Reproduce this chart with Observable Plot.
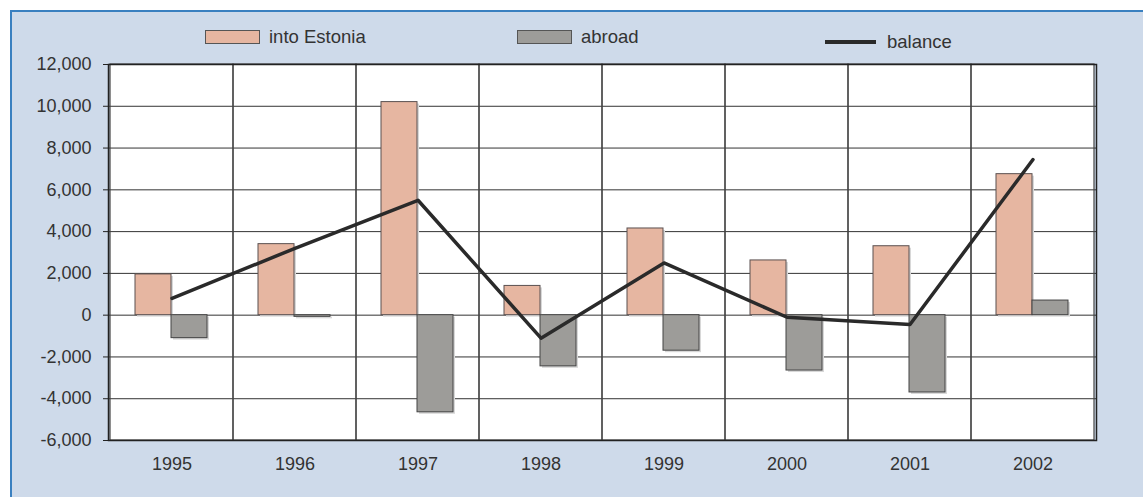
<!DOCTYPE html>
<html>
<head>
<meta charset="utf-8">
<script src="https://cdn.jsdelivr.net/npm/d3@7"></script>
<script src="https://cdn.jsdelivr.net/npm/@observablehq/plot@0.6"></script>
<style>
  body { margin: 0; background: #fff; font-family: "Liberation Sans", Arial, sans-serif; }
  #panel { position: absolute; left: 10px; top: 10px; width: 1133px; height: 487px;
           background: #cedaea; border-top: 2px solid #3a80c0; border-left: 2px solid #3a80c0; box-sizing: border-box; }
  #legend { position: absolute; left: 0; top: 0; width: 1143px; height: 54px; font-size: 18.5px; color: #333; }
  .item { position: absolute; top: 26px; display: flex; align-items: center; }
  .sw { width: 53px; height: 12px; border: 1px solid #555; margin-right: 9px; }
  .ln { width: 51px; height: 4px; background: #2a2a2a; margin-right: 11px; }
  #chart { position: absolute; left: 0; top: 54px; }
</style>
</head>
<body>
<div id="panel"></div>
<div id="legend"></div>
<div id="chart"></div>
<script>
const years = ["1995","1996","1997","1998","1999","2000","2001","2002"];
const intoEstonia = [1950, 3400, 10200, 1400, 4150, 2620, 3300, 6750];
const abroad = [-1100, -80, -4650, -2450, -1700, -2650, -3700, 700];
const balance = [800, 3200, 5500, -1100, 2500, -100, -450, 7450];
const yTicks = [-6000, -4000, -2000, 0, 2000, 4000, 6000, 8000, 10000, 12000];
const seriesNames = ["into Estonia", "abroad", "balance"];
const seriesColors = ["#e6b6a1", "#9d9c99", "#2a2a2a"];

const rows = years.map((y, i) => ({year: y, into: intoEstonia[i], abroad: abroad[i], balance: balance[i]}));

// legend
const legend = document.getElementById("legend");
const legendPos = [205, 517, 825];
seriesNames.forEach((n, i) => {
  const d = document.createElement("div");
  d.className = "item";
  d.style.left = legendPos[i] + "px";
  if (i === 2) d.style.top = "31px";
  const s = document.createElement("span");
  s.className = i === 2 ? "ln" : "sw";
  if (i < 2) s.style.background = seriesColors[i];
  d.appendChild(s);
  const t = document.createElement("span");
  t.textContent = n;
  d.appendChild(t);
  legend.appendChild(d);
});

const fmt = d => d.toLocaleString("en-US");

const chart = Plot.plot({
  width: 1143,
  height: 443,
  marginTop: 10,
  marginBottom: 57,
  marginLeft: 108,
  marginRight: 47,
  style: { background: "transparent", fontFamily: "Liberation Sans, Arial, sans-serif", fontSize: "18px", color: "#333" },
  x: { domain: years, padding: 0, label: null, tickSize: 0, tickPadding: 17 },
  y: { domain: [-6000, 12000], ticks: yTicks, label: null, tickFormat: fmt },
  marks: [
    Plot.barY(rows, {x: "year", y1: -6000, y2: 12000, fill: "#fff"}),
    Plot.ruleY(yTicks, {stroke: "#333", strokeWidth: 1}),
    Plot.barY(rows, {x: "year", y1: -6000, y2: 12000, fill: "none", stroke: "#444", strokeWidth: 1.2}),
    // shadows
    Plot.barY(rows, {x: "year", y: "into", fill: "#d8d8d8", insetLeft: 25, insetRight: 62, dx: 2, dy: 2}),
    Plot.barY(rows, {x: "year", y: "abroad", fill: "#d8d8d8", insetLeft: 61, insetRight: 26, dx: 2, dy: 2}),
    Plot.barY(rows, {x: "year", y: "into", fill: seriesColors[0], stroke: "#5a5050", strokeWidth: 1, insetLeft: 25, insetRight: 62}),
    Plot.barY(rows, {x: "year", y: "abroad", fill: seriesColors[1], stroke: "#444", strokeWidth: 1, insetLeft: 61, insetRight: 26}),
    Plot.lineY(rows, {x: "year", y: "balance", stroke: seriesColors[2], strokeWidth: 3.5}),
    Plot.axisY({ticks: yTicks, tickSize: 5, tickPadding: 12, tickFormat: fmt, label: null, stroke: "#222"}),
    Plot.frame({stroke: "#222", strokeWidth: 1.5})
  ]
});
document.getElementById("chart").appendChild(chart);
</script>
</body>
</html>
